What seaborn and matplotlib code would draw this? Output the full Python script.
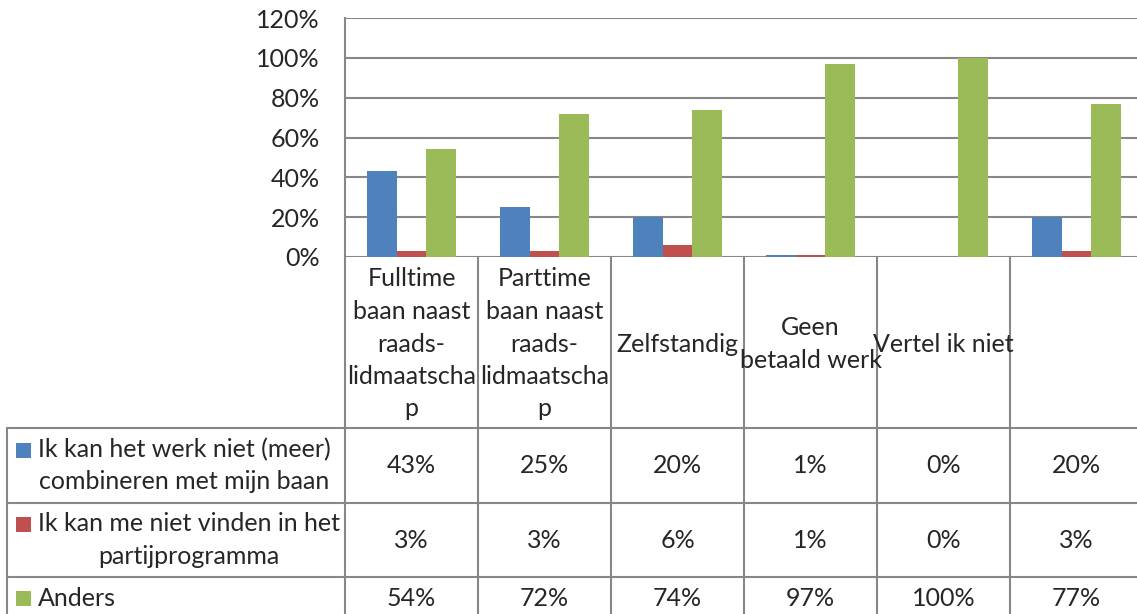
import numpy as np
import pandas as pd
import matplotlib
matplotlib.use('Agg')
import matplotlib.pyplot as plt
from matplotlib.ticker import PercentFormatter
import seaborn as sns

# data
categories = ['Fulltime\nbaan naast\nraads-\nlidmaatscha\np',
              'Parttime\nbaan naast\nraads-\nlidmaatscha\np',
              'Zelfstandig',
              'Geen\nbetaald werk',
              'Vertel ik niet',
              '']
series = ['Ik kan het werk niet (meer)\ncombineren met mijn baan',
          'Ik kan me niet vinden in het\npartijprogramma',
          'Anders']
werk = [43, 25, 20, 1, 0, 20]
partij = [3, 3, 6, 1, 0, 3]
anders = [54, 72, 74, 97, 100, 77]
kleuren = ['#4F81BD', '#C0504D', '#9BBB59']

rows = []
for s, vals in zip(series, [werk, partij, anders]):
    for c, v in zip(categories, vals):
        rows.append({'cat': c, 'serie': s, 'waarde': v / 100})
df = pd.DataFrame(rows)

sns.set_style('white')
plt.rcParams['font.family'] = ['Lato', 'DejaVu Sans']
FS = 18
LS = 1.5
GRID = '#878787'

W, H = 1137, 614
fig = plt.figure(figsize=(W / 100, H / 100), dpi=100)

# layout in pixels
left, cell = 345, 133
top, base = 18, 257
row_edges = [428, 503, 577, 619]
tab_left = 7

ax = fig.add_axes([left / W, (H - base) / H, cell * len(categories) / W, (base - top) / H])
sns.barplot(data=df, x='cat', y='waarde', hue='serie', hue_order=series,
            palette=kleuren, width=0.665, saturation=1, legend=False, ax=ax,
            edgecolor='none')
ax.set_ylim(0, 1.2)
ax.set_yticks(np.arange(0, 1.21, 0.2))
ax.yaxis.set_major_formatter(PercentFormatter(1.0, decimals=0))
ax.set_xlim(-0.5, len(categories) - 0.5)
ax.set_xticks([])
ax.set_xlabel('')
ax.set_ylabel('')
ax.tick_params(axis='y', labelsize=FS, pad=18, length=0)
ax.yaxis.grid(True, color=GRID, lw=1.5)
ax.set_axisbelow(True)
for sp in ['top', 'right', 'bottom']:
    ax.spines[sp].set_visible(False)
ax.spines['left'].set_color(GRID)
ax.spines['left'].set_linewidth(1.5)

# data table below the chart
tb = fig.add_axes([0, 0, 1, 1], zorder=-1)
tb.set_xlim(0, W)
tb.set_ylim(H, 0)
tb.axis('off')

right = left + cell * len(categories)
for y in row_edges:
    tb.plot([tab_left, right], [y, y], color=GRID, lw=1.5)
tb.plot([tab_left, tab_left], [row_edges[0], row_edges[-1]], color=GRID, lw=1.5)
for i in range(len(categories) + 1):
    x = left + i * cell
    tb.plot([x, x], [base, row_edges[-1]], color=GRID, lw=1.5)

for i, c in enumerate(categories):
    cx = left + (i + 0.5) * cell
    tb.text(cx, 344, c, ha='center', va='center', fontsize=FS, linespacing=LS)

for r, (s, vals, kl) in enumerate(zip(series, [werk, partij, anders], kleuren)):
    cy = (row_edges[r] + row_edges[r + 1]) / 2
    nl = s.count('\n')
    tb.text(38, cy, s, ha='left', va='center', multialignment='center',
            fontsize=FS, linespacing=LS)
    my = cy - nl * 15.5
    tb.add_patch(plt.Rectangle((16, my - 7.5), 15, 15, color=kl, lw=0))
    for i, v in enumerate(vals):
        cx = left + (i + 0.5) * cell
        tb.text(cx, cy, f'{v}%', ha='center', va='center', fontsize=FS)

fig.savefig('out.png', dpi=100)
